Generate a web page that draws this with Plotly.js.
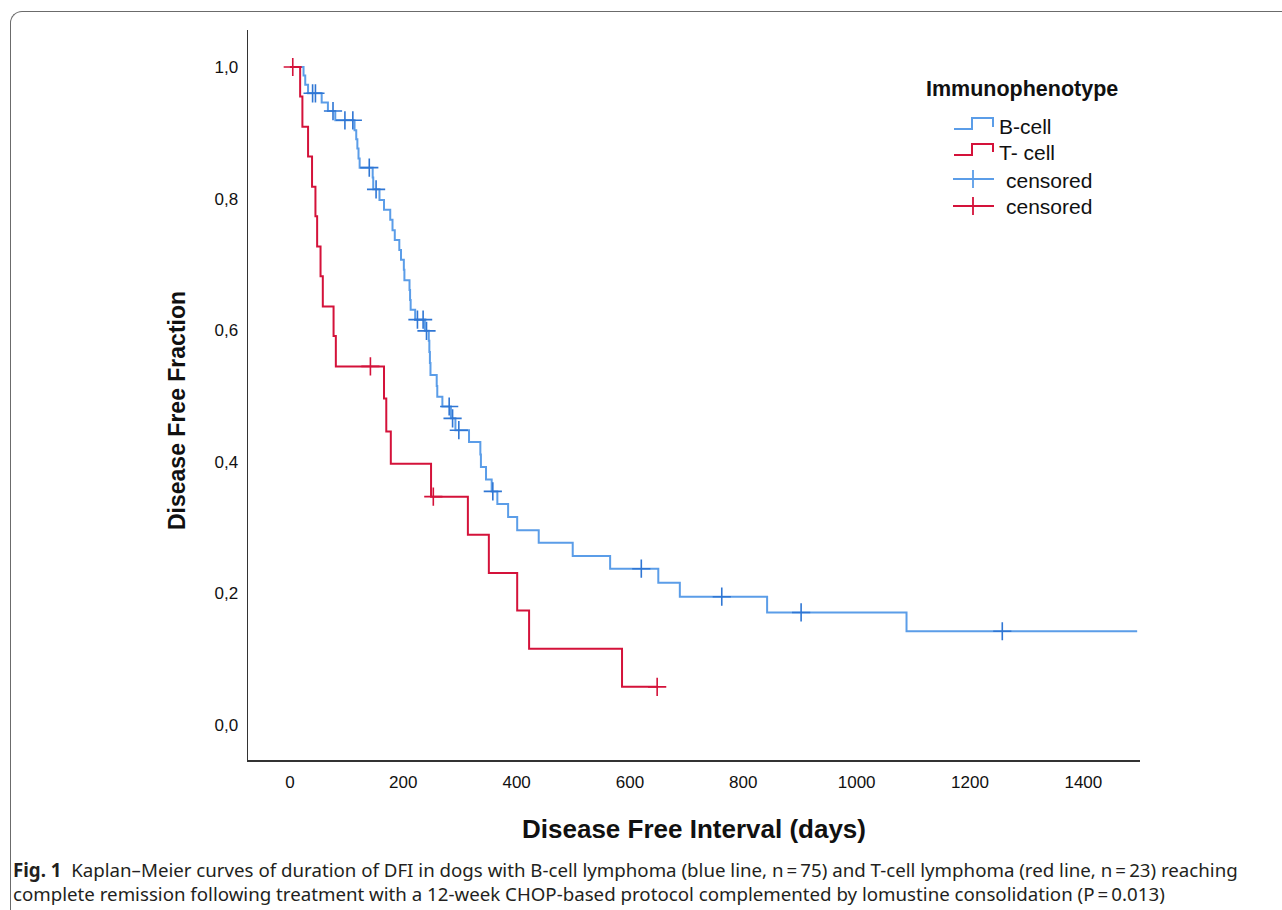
<!DOCTYPE html>
<html>
<head>
<meta charset="utf-8">
<script src="https://cdn.plot.ly/plotly-3.0.1.min.js"></script>
<style>
  html, body { margin: 0; padding: 0; background: #ffffff; }
  #frame { position: absolute; left: 10px; top: 11px; width: 1400px; height: 1000px;
           border-left: 1.5px solid #6b6b6b; border-top: 1.5px solid #6b6b6b;
           border-top-left-radius: 12px; pointer-events: none; }
  #chart { position: absolute; left: 0; top: 0; width: 1282px; height: 910px; }
</style>
</head>
<body>
<div id="frame"></div>
<div id="chart"></div>
<script>
// ---------------- data ----------------
// B-cell Kaplan–Meier step curve (days, disease free fraction)
const bCellTime = [0, 24, 27, 32, 56, 67, 80, 114, 117, 119, 121, 123, 146, 147, 158, 166, 177, 181, 185, 193, 196, 201, 202, 211, 212, 213, 221, 238, 245, 246, 247, 248, 259, 260, 269, 284, 292, 316, 336, 337, 346, 356, 366, 385, 401, 439, 499, 565, 650, 688, 842, 1088, 1495];
const bCellSurv = [1.0, 0.987, 0.973, 0.960, 0.946, 0.933, 0.919, 0.904, 0.890, 0.876, 0.861, 0.847, 0.832, 0.814, 0.798, 0.783, 0.768, 0.752, 0.737, 0.722, 0.707, 0.692, 0.676, 0.661, 0.646, 0.631, 0.616, 0.599, 0.584, 0.567, 0.550, 0.532, 0.515, 0.499, 0.484, 0.466, 0.448, 0.430, 0.411, 0.392, 0.373, 0.355, 0.336, 0.316, 0.296, 0.277, 0.257, 0.2375, 0.216, 0.195, 0.171, 0.1425, 0.1425];
// B-cell censored observations
const bCensTime = [40, 45, 76, 97, 111, 140, 152, 225, 235, 241, 281, 287, 298, 358, 620, 762, 902, 1257];
const bCensSurv = [0.960, 0.960, 0.933, 0.919, 0.919, 0.847, 0.814, 0.616, 0.616, 0.599, 0.484, 0.466, 0.448, 0.355, 0.2375, 0.195, 0.171, 0.1425];

// T-cell Kaplan–Meier step curve
const tCellTime = [0, 18, 22, 32, 39, 45, 48, 54, 58, 77, 81, 166, 170, 178, 249, 314, 351, 401, 422, 586, 648];
const tCellSurv = [1.0, 0.955, 0.909, 0.864, 0.818, 0.773, 0.727, 0.682, 0.636, 0.591, 0.545, 0.496, 0.446, 0.397, 0.347, 0.289, 0.231, 0.174, 0.116, 0.058, 0.058];
// T-cell censored observations
const tCensTime = [5, 142, 253, 648];
const tCensSurv = [1.0, 0.545, 0.347, 0.058];

// tick labels
const xTickVals = [0, 200, 400, 600, 800, 1000, 1200, 1400];
const xTickText = ['0', '200', '400', '600', '800', '1000', '1200', '1400'];
const yTickVals = [0, 0.2, 0.4, 0.6, 0.8, 1.0];
const yTickText = ['0,0', '0,2', '0,4', '0,6', '0,8', '1,0'];

// text
const xTitle = 'Disease Free Interval (days)';
const yTitle = 'Disease Free Fraction';
const legendTitle = 'Immunophenotype';
const legendLabels = ['B-cell', 'T- cell', 'censored', 'censored'];
const captionLine1 = '<b>Fig. 1</b>  Kaplan–Meier curves of duration of DFI in dogs with B-cell lymphoma (blue line, n\u2009=\u200975) and T-cell lymphoma (red line, n\u2009=\u200923) reaching';
const captionLine2 = 'complete remission following treatment with a 12-week CHOP-based protocol complemented by lomustine consolidation (P\u2009=\u20090.013)';

// ---------------- styling ----------------
const BLUE_LINE = '#5b9de8';
const BLUE_MARK = '#2f76d4';
const RED = '#d4123a';
const FONT = 'Liberation Sans, Arial, sans-serif';
const CAP_FONT = 'Noto Sans, Open Sans, sans-serif';

// layout geometry (pixels)
const W = 1282, H = 910;
const M = { l: 248, r: 142, t: 30, b: 150 };
const PW = W - M.l - M.r, PH = H - M.t - M.b;
const px = v => (v - M.l) / PW;          // page x pixel -> paper
const py = v => (H - M.b - v) / PH;       // page y pixel -> paper

const traces = [
  { x: bCellTime, y: bCellSurv, type: 'scatter', mode: 'lines', line: { shape: 'hv', color: BLUE_LINE, width: 2 }, name: 'B-cell' },
  { x: tCellTime, y: tCellSurv, type: 'scatter', mode: 'lines', line: { shape: 'hv', color: RED, width: 2 }, name: 'T- cell' },
  { x: bCensTime, y: bCensSurv, type: 'scatter', mode: 'markers', marker: { symbol: 'cross-thin-open', size: 13, color: BLUE_MARK, line: { color: BLUE_MARK, width: 1.6 } }, name: 'censored' },
  { x: tCensTime, y: tCensSurv, type: 'scatter', mode: 'markers', marker: { symbol: 'cross-thin-open', size: 13, color: RED, line: { color: RED, width: 1.6 } }, name: 'censored' }
];

// hand-drawn legend (SPSS style step icons)
function pathFromPixels(pts) {
  return pts.map((p, i) => (i === 0 ? 'M' : 'L') + px(p[0]).toFixed(5) + ',' + py(p[1]).toFixed(5)).join(' ');
}
const shapes = [
  { type: 'path', xref: 'paper', yref: 'paper', path: pathFromPixels([[954, 129], [972, 129], [972, 118], [993, 118], [993, 127]]), line: { color: BLUE_LINE, width: 2 } },
  { type: 'path', xref: 'paper', yref: 'paper', path: pathFromPixels([[954, 155], [972, 155], [972, 144], [993, 144], [993, 152]]), line: { color: RED, width: 2 } },
  { type: 'path', xref: 'paper', yref: 'paper', path: pathFromPixels([[953, 179], [994, 179]]), line: { color: BLUE_LINE, width: 1.8 } },
  { type: 'path', xref: 'paper', yref: 'paper', path: pathFromPixels([[973, 170], [973, 188]]), line: { color: BLUE_LINE, width: 1.8 } },
  { type: 'path', xref: 'paper', yref: 'paper', path: pathFromPixels([[953, 206], [994, 206]]), line: { color: RED, width: 1.8 } },
  { type: 'path', xref: 'paper', yref: 'paper', path: pathFromPixels([[973, 197], [973, 215]]), line: { color: RED, width: 1.8 } }
];

const annotations = [
  { text: '<b>' + yTitle + '</b>', xref: 'paper', yref: 'paper', x: px(177), y: py(411), xanchor: 'center', yanchor: 'middle', textangle: -90, showarrow: false, font: { family: FONT, size: 23, color: '#111' } },
  { text: '<b>' + legendTitle + '</b>', xref: 'paper', yref: 'paper', x: px(1022), y: py(89), xanchor: 'center', yanchor: 'middle', showarrow: false, font: { family: FONT, size: 21.5, color: '#111' } },
  { text: legendLabels[0], xref: 'paper', yref: 'paper', x: px(997), y: py(126), xanchor: 'left', yanchor: 'middle', showarrow: false, font: { family: FONT, size: 21, color: '#111' } },
  { text: legendLabels[1], xref: 'paper', yref: 'paper', x: px(997), y: py(152), xanchor: 'left', yanchor: 'middle', showarrow: false, font: { family: FONT, size: 21, color: '#111' } },
  { text: legendLabels[2], xref: 'paper', yref: 'paper', x: px(1004), y: py(180), xanchor: 'left', yanchor: 'middle', showarrow: false, font: { family: FONT, size: 21, color: '#111' } },
  { text: legendLabels[3], xref: 'paper', yref: 'paper', x: px(1004), y: py(207), xanchor: 'left', yanchor: 'middle', showarrow: false, font: { family: FONT, size: 21, color: '#111' } },
  { text: captionLine1, xref: 'paper', yref: 'paper', x: px(11), y: py(869), xanchor: 'left', yanchor: 'middle', showarrow: false, font: { family: CAP_FONT, size: 18.7, color: '#231f20' } },
  { text: captionLine2, xref: 'paper', yref: 'paper', x: px(11), y: py(893), xanchor: 'left', yanchor: 'middle', showarrow: false, font: { family: CAP_FONT, size: 18.7, color: '#231f20' } }
];

const layout = {
  width: W, height: H,
  margin: M,
  paper_bgcolor: 'rgba(0,0,0,0)',
  plot_bgcolor: '#ffffff',
  showlegend: false,
  font: { family: FONT, color: '#111' },
  xaxis: {
    range: [-74, 1500], tickvals: xTickVals, ticktext: xTickText,
    ticks: '', showgrid: false, zeroline: false, showline: true, linecolor: '#333', linewidth: 1.5,
    tickfont: { family: FONT, size: 17, color: '#111' }, ticklabelstandoff: 6,
    title: { text: xTitle, font: { family: FONT, size: 26, weight: 'bold', color: '#111' }, standoff: 29 },
    automargin: false
  },
  yaxis: {
    range: [-0.0532, 1.0562], tickvals: yTickVals, ticktext: yTickText,
    ticks: '', showgrid: false, zeroline: false, showline: true, linecolor: '#333', linewidth: 1.5,
    tickfont: { family: FONT, size: 17, color: '#111' }, ticklabelstandoff: 5,
    automargin: false
  },
  shapes: shapes,
  annotations: annotations
};

Plotly.newPlot('chart', traces, layout, { displayModeBar: false, staticPlot: true });
</script>
</body>
</html>
